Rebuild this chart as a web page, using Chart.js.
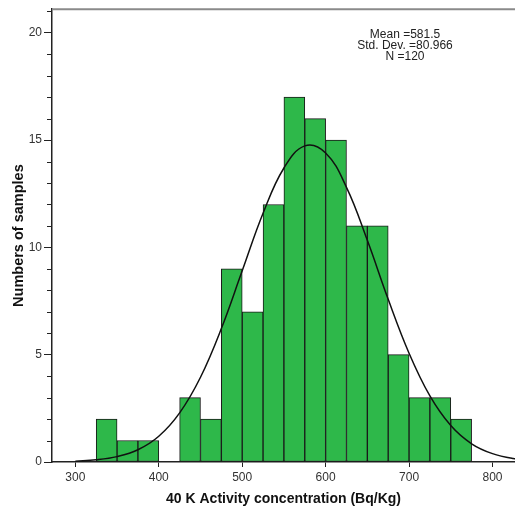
<!DOCTYPE html>
<html>
<head>
<meta charset="utf-8">
<script src="https://cdn.jsdelivr.net/npm/chart.js@4/dist/chart.umd.min.js"></script>
<style>
  body { margin: 0; background: #fff; }
  #wrap { width: 515px; height: 515px; }
</style>
</head>
<body>
<div id="wrap"><canvas id="myChart" width="515" height="515"></canvas></div>
<script>
// histogram bins (centres, width 25) and counts
let binCenters = [337.5, 362.5, 387.5, 412.5, 437.5, 462.5, 487.5, 512.5, 537.5, 562.5, 587.5, 612.5, 637.5, 662.5, 687.5, 712.5, 737.5, 762.5];
let counts = [2, 1, 1, 0, 3, 2, 9, 7, 12, 17, 16, 15, 11, 11, 5, 3, 3, 2];

// normal curve
let curveX = [300, 325, 350, 375, 400, 425, 450, 475, 500, 525, 550, 575, 600, 625, 650, 675, 700, 725, 750, 775, 800, 825, 850];
let curveY = [0.04, 0.1, 0.25, 0.57, 1.2, 2.29, 3.95, 6.22, 8.91, 11.59, 13.7, 14.73, 14.4, 12.8, 10.33, 7.58, 5.07, 3.08, 1.7, 0.85, 0.39, 0.16, 0.06];

let xTicks = [300, 400, 500, 600, 700, 800];
let yTicks = [0, 5, 10, 15, 20];
let statsLines = ["Mean =581.5", "Std. Dev. =80.966", "N =120"];

const fontFam = "'Liberation Sans', Arial, sans-serif";

function histChart() {
  const barData = binCenters.map((x, i) => ({ x: x, y: counts[i] }));
  const lineData = curveX.map((x, i) => ({ x: x, y: curveY[i] }));

  const extras = {
    id: 'extras',
    afterDraw(chart) {
      const ctx = chart.ctx;
      const area = chart.chartArea;
      const y = chart.scales.y;
      ctx.save();
      // top frame line
      ctx.strokeStyle = '#8a8a8a';
      ctx.lineWidth = 2;
      ctx.beginPath();
      ctx.moveTo(area.left, area.top);
      ctx.lineTo(515, area.top);
      ctx.stroke();
      // minor ticks on y axis
      ctx.strokeStyle = '#222';
      ctx.lineWidth = 1;
      for (let v = 1; v <= 21; v++) {
        if (v % 5 === 0) continue;
        const py = Math.round(y.getPixelForValue(v)) + 0.5;
        ctx.beginPath();
        ctx.moveTo(area.left - 5, py);
        ctx.lineTo(area.left, py);
        ctx.stroke();
      }
      // stats text
      ctx.fillStyle = '#222';
      ctx.font = "12px " + fontFam;
      ctx.textAlign = 'center';
      ctx.textBaseline = 'middle';
      statsLines.forEach((t, i) => {
        ctx.fillText(t, 405, 35 + i * 11);
      });
      ctx.restore();
    }
  };

  const config = {
    data: {
      datasets: [
        {
          type: 'line',
          data: lineData,
          borderColor: '#111',
          borderWidth: 1.5,
          pointRadius: 0,
          tension: 0.4,
          fill: false
        },
        {
          type: 'bar',
          data: barData,
          backgroundColor: '#2eb84a',
          borderColor: '#1a1a1a',
          borderWidth: 1,
          borderSkipped: false,
          barPercentage: 1,
          categoryPercentage: 1
        }
      ]
    },
    options: {
      responsive: false,
      animation: false,
      layout: { padding: { top: 8, right: 0, left: 0, bottom: 0 } },
      plugins: { legend: { display: false }, tooltip: { enabled: false } },
      scales: {
        x: {
          type: 'linear',
          min: 272,
          max: 827,
          offset: false,
          afterFit: (s) => { s.height = 53; },
          afterBuildTicks: (s) => { s.ticks = xTicks.map(v => ({ value: v })); },
          grid: { offset: false, drawOnChartArea: false, drawTicks: true, tickLength: 5, color: '#222', lineWidth: 1 },
          border: { display: true, color: '#222', width: 1.5 },
          ticks: { color: '#333', font: { family: fontFam, size: 12 }, padding: 3, maxRotation: 0 },
          title: {
            display: true,
            text: '40 K Activity concentration (Bq/Kg)',
            color: '#111',
            font: { family: fontFam, size: 14, weight: 'bold' },
            padding: { top: 0, bottom: 7 }
          }
        },
        y: {
          min: 0,
          max: 21.1,
          afterFit: (s) => { s.width = 52; },
          afterBuildTicks: (s) => { s.ticks = yTicks.map(v => ({ value: v })); },
          grid: { offset: false, drawOnChartArea: false, drawTicks: true, tickLength: 8, color: '#222', lineWidth: 1 },
          border: { display: true, color: '#222', width: 1.5 },
          ticks: { color: '#333', font: { family: fontFam, size: 12 }, padding: 2 },
          title: {
            display: true,
            text: 'Numbers of samples',
            color: '#111',
            font: { family: fontFam, size: 14.5, weight: 'bold' },
            padding: { top: 10, bottom: 0 }
          }
        }
      }
    },
    plugins: [extras]
  };

  new Chart(document.getElementById('myChart'), config);
}
histChart();
</script>
</body>
</html>
